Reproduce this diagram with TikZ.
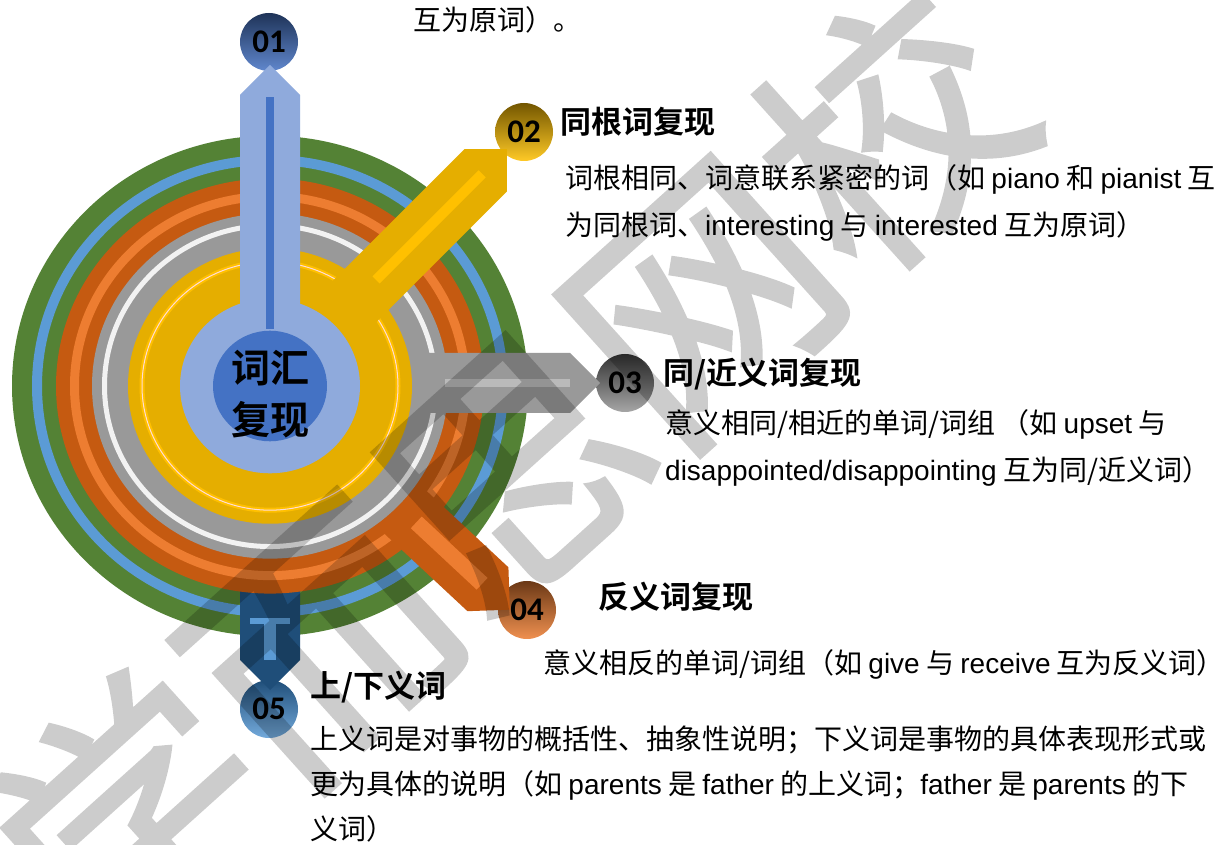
\documentclass[tikz,border=0pt]{standalone}
\usepackage{fontspec}
\setmainfont{Noto Sans CJK SC}[BoldFont={Noto Sans CJK SC Bold}]
\newfontfamily\en{Liberation Sans}
\newfontfamily\numfont{Carlito}
\newfontfamily\wmfont{Noto Sans CJK SC}[FakeBold=1.5]
\definecolor{ringgreen}{RGB}{84,130,53}
\definecolor{ringblue}{RGB}{91,155,213}
\definecolor{dorange}{RGB}{197,90,17}
\definecolor{lorange}{RGB}{237,125,49}
\definecolor{ringgray}{RGB}{153,153,153}
\definecolor{ringwhite}{RGB}{242,242,242}
\definecolor{gold}{RGB}{229,174,0}
\definecolor{lgold}{RGB}{255,192,0}
\definecolor{pinkline}{RGB}{255,220,215}
\definecolor{lblue}{RGB}{143,170,220}
\definecolor{dblue}{RGB}{68,114,196}
\definecolor{navy}{RGB}{31,78,121}
\definecolor{lgray}{RGB}{186,186,186}
\begin{document}
\begin{tikzpicture}[x=1pt,y=1pt,
  ball/.style={circle,minimum size=58pt,inner sep=0pt,font=\numfont\bfseries\fontsize{33}{33}\selectfont},
  titl/.style={anchor=base west,inner sep=0pt,font=\bfseries\fontsize{31}{31}\selectfont},
  body/.style={anchor=base west,inner sep=0pt,font=\fontsize{28}{28}\selectfont},
  hubtext/.style={align=center,inner sep=0pt,font=\bfseries\fontsize{39}{52}\selectfont}]
\def\cx{270}
\def\cy{458}
\def\aw{30}

\useasboundingbox (0,0) rectangle (1229,844);
\fill[white] (0,0) rectangle (1229,844);

% balls
\node[ball,top color=dblue!45!black,middle color=dblue,bottom color=dblue!85!white] (b1) at (269,802) {01};
\node[ball,top color=lgold!45!black,middle color=lgold,bottom color=lgold!85!white] (b2) at (524,712) {02};
\node[ball,top color=black!80,middle color=black!55,bottom color=black!35] (b3) at (625,461) {03};
\node[ball,top color=lorange!45!black,middle color=lorange,bottom color=lorange!85!white] (b4) at (527,234) {04};
\node[ball,top color=navy,middle color=ringblue,bottom color=ringblue!85!white] (b5) at (269,135) {05};

% rings and arms
\begin{scope}[shift={(\cx,\cy)},yscale=0.97]
\fill[ringgreen] (0,0) circle (258);
\draw[ringblue,line width=10pt] (0,0) circle (233);
\end{scope}
\begin{scope}[shift={(\cx,\cy)},rotate=-90]
\fill[navy] (0,-\aw) -- (274,-\aw) -- (304,0) -- (274,\aw) -- (0,\aw) -- cycle;
\fill[ringblue] (234,-6) rectangle (274,6);
\fill[ringblue] (232,-20) rectangle (238,20);
\end{scope}
\begin{scope}[shift={(\cx,\cy)},yscale=0.97]
\fill[dorange] (0,0) circle (214);
\draw[lorange,line width=9pt] (0,0) circle (195.5);
\end{scope}
\begin{scope}[shift={(\cx,\cy)},rotate=-43]
\fill[dorange] (0,-\aw) -- (298,-\aw) -- (328,0) -- (298,\aw) -- (0,\aw) -- cycle;
\fill[lorange] (200,-8) rectangle (290,8);
\end{scope}
\begin{scope}[shift={(\cx,\cy)},yscale=0.97]
\fill[ringgray] (0,0) circle (178);
\draw[ringwhite,line width=5pt] (0,0) circle (165.5);
\end{scope}
\begin{scope}[shift={(\cx,\cy+3)}]
\fill[ringgray] (0,-\aw) -- (300,-\aw) -- (330,0) -- (300,\aw) -- (0,\aw) -- cycle;
\fill[lgray] (175,-4) rectangle (300,4);
\end{scope}
\begin{scope}[shift={(\cx,\cy)},yscale=0.97]
\fill[gold] (0,0) circle (142);
\draw[lgold,line width=5pt] (0,0) circle (128);
\draw[pinkline,line width=1pt] (0,0) circle (128);
\end{scope}
\begin{scope}[shift={(\cx,\cy)},rotate=45]
\fill[gold] (0,-\aw) -- (305,-\aw) -- (335,0) -- (305,\aw) -- (0,\aw) -- cycle;
\fill[lgold] (150,-5) rectangle (300,5);
\end{scope}
\begin{scope}[shift={(\cx,\cy)},yscale=0.97]
\fill[lblue] (0,0) circle (90);
\end{scope}
\begin{scope}[shift={(\cx,\cy)},rotate=90]
\fill[lblue] (0,-\aw) -- (291,-\aw) -- (321,0) -- (291,\aw) -- (0,\aw) -- cycle;
\fill[dblue] (57,-4) rectangle (289,4);
\end{scope}
\begin{scope}[shift={(\cx,\cy)},yscale=0.97]
\fill[dblue] (0,0) circle (57);
\end{scope}
\node[hubtext] (hub) at (270,450) {词汇\\复现};

% texts
\node[body] (t0) at (413,813) {互为原词）。};

\node[titl] (h2) at (560,710) {同根词复现};
\node[body] (d2a) at (565,655) {词根相同、词意联系紧密的词（如 {\en piano} 和 {\en pianist} 互};
\node[body] (d2b) at (565,608) {为同根词、{\en interesting} 与 {\en interested} 互为原词）};

\node[titl] (h3) at (663,459) {同/近义词复现};
\node[body] (d3a) at (665,410) {意义相同/相近的单词/词组 （如 {\en upset} 与};
\node[body] (d3b) at (665,363) {{\en disappointed/disappointing} 互为同/近义词）};

\node[titl] (h4) at (598,235) {反义词复现};
\node[body] (d4a) at (543,171) {意义相反的单词/词组（如 {\en give} 与 {\en receive} 互为反义词）};

\node[titl] (h5) at (310,147) {上/下义词};
\node[body] (d5a) at (310,95) {上义词是对事物的概括性、抽象性说明；下义词是事物的具体表现形式或};
\node[body] (d5b) at (310,50) {更为具体的说明（如 {\en parents} 是 {\en father} 的上义词；{\en father} 是 {\en parents} 的下};
\node[body] (d5c) at (310,5) {义词）};

% watermark
\begin{scope}[transparency group,opacity=0.2]
\node[rotate=42,inner sep=0pt,font=\wmfont\fontsize{255}{255}\selectfont] (wm) at (510,374) {学而思网校};
\end{scope}
\end{tikzpicture}
\end{document}
